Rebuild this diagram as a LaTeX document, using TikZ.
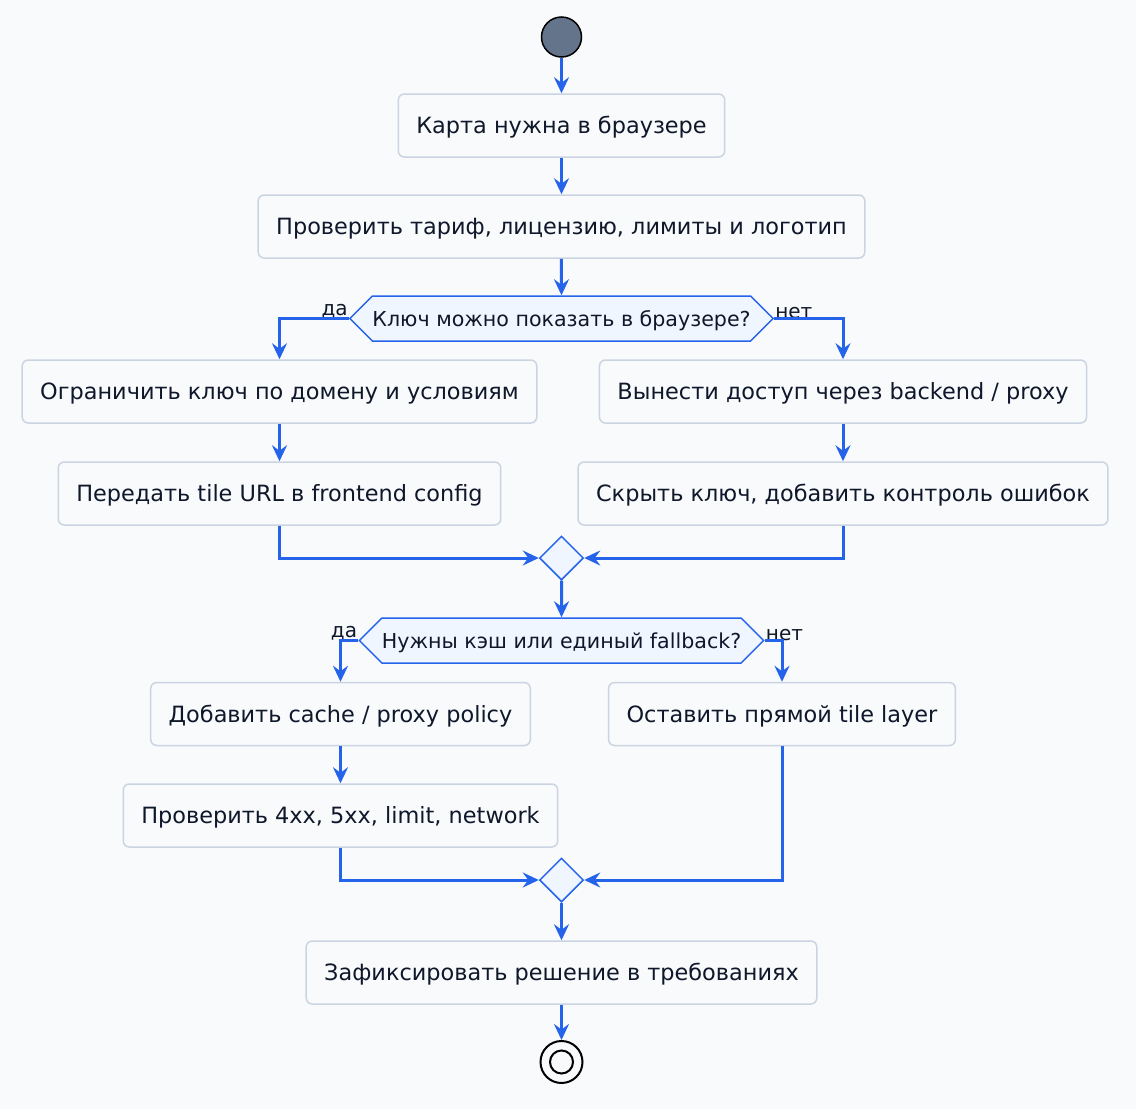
\documentclass[tikz,border=0pt]{standalone}
\usepackage{fontspec}
\setmainfont{DejaVu Sans}
\usetikzlibrary{arrows.meta,shapes.geometric,shapes.symbols,backgrounds}
\definecolor{bgc}{HTML}{F8FAFC}
\definecolor{boxline}{HTML}{CBD5E1}
\definecolor{txt}{HTML}{0F172A}
\definecolor{flow}{HTML}{2563EB}
\definecolor{hexfill}{HTML}{EFF6FF}
\definecolor{startc}{HTML}{64748B}
\begin{document}
\begin{tikzpicture}[x=1pt,y=-1pt,
  actbox/.style={draw=boxline, line width=1.5pt, fill=bgc, rounded corners=6pt,
    minimum height=63pt, inner xsep=18pt, text height=16.5pt, text depth=0pt,
    text=txt, font=\fontsize{22.4}{26}\selectfont},
  decis/.style={shape=signal, signal to=west and east, signal pointer angle=90,
    draw=flow, line width=1.5pt, fill=hexfill, minimum height=45pt, inner sep=0pt,
    text height=15.5pt, text depth=0pt,
    text=txt, font=\fontsize{20.6}{24}\selectfont},
  merge/.style={shape=diamond, draw=flow, line width=1.5pt, fill=hexfill,
    minimum width=44pt, minimum height=44pt, inner sep=0pt},
  lbl/.style={text=txt, font=\fontsize{20}{23}\selectfont, inner sep=1pt},
  flowline/.style={draw=flow, line width=3pt,
    -{Stealth[length=16pt, width=15pt, inset=5.5pt]}},
]
\begin{scope}[on background layer]
\fill[bgc] (0,0) rectangle (1136,1109);
\end{scope}

\node[circle, draw=black, line width=1.5pt, fill=startc, minimum size=40pt, inner sep=0pt] (start) at (561.5,37) {};
\node[actbox] (b1) at (561.5,125.5) {Карта нужна в браузере};
\node[actbox] (b2) at (561.5,226.5) {Проверить тариф, лицензию, лимиты и логотип};
\node[decis, minimum width=423pt] (d1) at (561.5,318.5) {Ключ можно показать в браузере?};
\node[actbox] (b3) at (279.5,391.5) {Ограничить ключ по домену и условиям};
\node[actbox] (b4) at (279.5,493.5) {Передать tile URL в frontend config};
\node[actbox] (b5) at (843,391.5) {Вынести доступ через backend / proxy};
\node[actbox] (b6) at (843,493.5) {Скрыть ключ, добавить контроль ошибок};
\node[merge] (m1) at (561.5,558) {};
\node[decis, minimum width=403pt] (d2) at (561.5,640.5) {Нужны кэш или единый fallback?};
\node[actbox] (b7) at (340.5,714) {Добавить cache / proxy policy};
\node[actbox] (b8) at (340.5,815.5) {Проверить 4xx, 5xx, limit, network};
\node[actbox] (b9) at (782,714) {Оставить прямой tile layer};
\node[merge] (m2) at (561.5,880) {};
\node[actbox] (b10) at (561.5,972.5) {Зафиксировать решение в требованиях};
\node[circle, draw=black, line width=2pt, fill=bgc, minimum size=42pt, inner sep=0pt] (end) at (561.5,1062) {};
\node[circle, draw=black, line width=2pt, minimum size=23pt, inner sep=0pt] (endin) at (end.center) {};

\node[lbl, anchor=south east] (l1) at ([yshift=-1pt]d1.west) {да};
\node[lbl, anchor=south west] (l2) at ([yshift=-1pt]d1.east) {нет};
\node[lbl, anchor=south east] (l3) at ([yshift=-1pt]d2.west) {да};
\node[lbl, anchor=south west] (l4) at ([yshift=-1pt]d2.east) {нет};

\draw[flowline] (start) -- (b1);
\draw[flowline] (b1) -- (b2);
\draw[flowline] (b2) -- (d1);
\draw[flowline] (d1.west) -| (b3.north);
\draw[flowline] (d1.east) -| (b5.north);
\draw[flowline] (b3) -- (b4);
\draw[flowline] (b5) -- (b6);
\draw[flowline] (b4.south) |- (m1.west);
\draw[flowline] (b6.south) |- (m1.east);
\draw[flowline] (m1) -- (d2);
\draw[flowline] (d2.west) -| (b7.north);
\draw[flowline] (d2.east) -| (b9.north);
\draw[flowline] (b7) -- (b8);
\draw[flowline] (b8.south) |- (m2.west);
\draw[flowline] (b9.south) |- (m2.east);
\draw[flowline] (m2) -- (b10);
\draw[flowline] (b10) -- (end);
\end{tikzpicture}
\end{document}
